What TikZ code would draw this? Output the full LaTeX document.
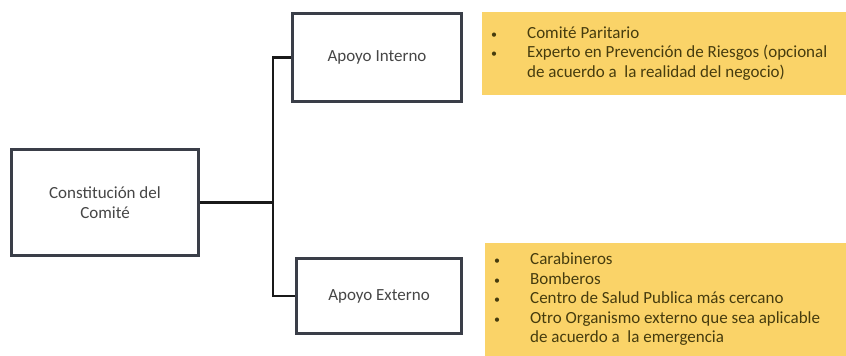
\documentclass[tikz,border=0pt]{standalone}
\usepackage{fontspec}
\setmainfont{Carlito}
\usepackage{xcolor}
\usepackage{array}
\usepackage{tikz}
\definecolor{GrisBorde}{RGB}{58,62,72}
\definecolor{GrisTexto}{RGB}{70,70,70}
\definecolor{AmarilloLista}{RGB}{250,211,104}
\definecolor{OlivaTexto}{RGB}{70,60,14}
\newcommand{\listafont}{\fontsize{17}{19.5}\selectfont}
\newcommand{\vineta}{{\fontsize{12}{12}\selectfont\textbullet}}

\begin{document}
\begin{tikzpicture}[x=1pt,y=-1pt,
  caja/.style={draw=GrisBorde,line width=3pt,fill=white,text=GrisTexto,align=center,font=\listafont},
  lista/.style={fill=AmarilloLista,anchor=north west,text=OlivaTexto,inner xsep=9pt,inner ysep=0pt,font=\listafont},
  conector/.style={line width=2.6pt,black!90}]
  \useasboundingbox (0,0) rectangle (846,356);
  % cajas
  \node[caja,minimum width=187pt,minimum height=106pt] (const) at (105,202.5) {Constitución del\\Comité};
  \node[caja,minimum width=169pt,minimum height=88pt] (interno) at (377,57.5) {Apoyo Interno};
  \node[caja,minimum width=165pt,minimum height=75pt] (externo) at (379,296) {Apoyo Externo};
  % listas
  \node[lista,minimum height=83pt] (listaint) at (482,12) {\makebox[346pt][l]{%
    \begin{tabular}{@{}p{36pt}@{}l@{}}
      \vineta & Comité Paritario\\
      \vineta & Experto en Prevención de Riesgos (opcional\\
              & de acuerdo a\ \ la realidad del negocio)
    \end{tabular}}};
  \node[lista,minimum height=113pt] (listaext) at (485,243) {\makebox[343pt][l]{%
    \begin{tabular}{@{}p{36pt}@{}l@{}}
      \vineta & Carabineros\\
      \vineta & Bomberos\\
      \vineta & Centro de Salud Publica más cercano\\
      \vineta & Otro Organismo externo que sea aplicable\\
              & de acuerdo a\ \ la emergencia
    \end{tabular}}};
  % conectores
  \coordinate (split) at (273,202.5);
  \draw[conector] (const.east) -- (split);
  \draw[conector] (split) |- (interno.west);
  \draw[conector] (split) |- (externo.west);
\end{tikzpicture}
\end{document}
